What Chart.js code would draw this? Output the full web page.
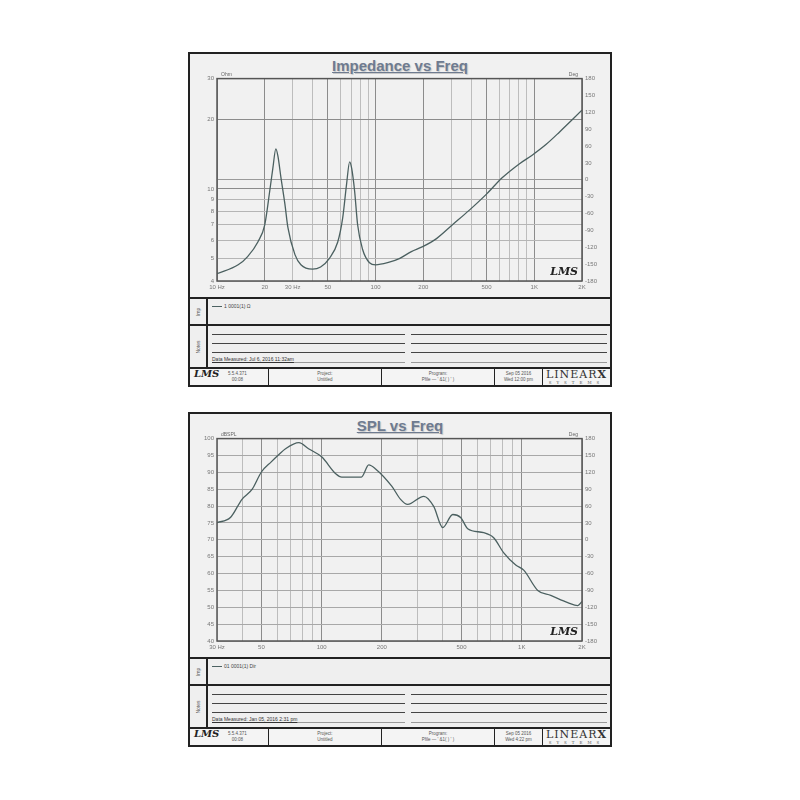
<!DOCTYPE html>
<html>
<head>
<meta charset="utf-8">
<script src="https://cdn.jsdelivr.net/npm/chart.js@4.4.0/dist/chart.umd.min.js"></script>
<style>
body { margin:0; width:800px; height:800px; background:#fff; position:relative; font-family:"Liberation Sans", Arial, sans-serif; }
.panel { position:absolute; left:188px; width:424px; height:335px; border:2px solid #222; box-sizing:border-box; background:#f1f1f1; }
.title { position:absolute; left:0; right:0; top:3px; text-align:center; font-weight:bold; font-size:15px; color:#6e7b90; text-decoration:underline; text-shadow:1px 1px 1px #c8c8c8; }
.plot { position:absolute; left:0; top:18px; width:420px; height:224px; }
.row { position:absolute; left:0; width:420px; border-top:2px solid #222; box-sizing:border-box; background:#efefef; }
.side { position:absolute; left:0; top:0; bottom:0; width:16px; border-right:2px solid #222; }
.side span { position:absolute; left:50%; top:50%; transform:translate(-50%,-50%) rotate(-90deg); font-size:5px; color:#555; white-space:nowrap; }
.leg { position:absolute; left:22px; top:4px; font-size:5px; color:#444; }
.leg i { display:inline-block; width:10px; border-top:1px solid #4d6262; vertical-align:middle; margin-right:2px; }
.nl { position:absolute; height:0; border-top:1px solid #444; }
.nt { position:absolute; left:22px; top:30px; font-size:5px; color:#333; text-decoration:underline; }
.foot { position:absolute; left:0; width:420px; border-top:2px solid #222; box-sizing:border-box; display:flex; background:#f4f4f4; }
.foot div { border-right:1px solid #222; box-sizing:border-box; font-size:4.5px; color:#555; text-align:center; line-height:6px; padding-top:2px; position:relative; }
.foot div:last-child { border-right:none; }
.lms { font-family:"DejaVu Serif", serif; font-style:italic; font-weight:bold; font-size:10px; color:#222; position:absolute; left:4px; top:2px; }
.foot div.lx { font-family:"DejaVu Serif", serif; font-size:11px; color:#333; letter-spacing:1px; line-height:10px; padding-top:1px; }
.foot div.lx span { display:block; font-size:4px; letter-spacing:5px; line-height:5px; color:#555; }
</style>
</head>
<body>

<div class="panel" style="top:52px">
  <div class="title">Impedance vs Freq</div>
  <div class="plot"><canvas id="imp"></canvas></div>
  <div class="row" style="top:243px;height:27px">
    <div class="side"><span>Imp</span></div>
    <div class="leg"><i></i>1 0001(1) Ω</div>
  </div>
  <div class="row" style="top:270px;height:43px">
    <div class="side"><span>Notes</span></div>
    <div class="nl" style="left:22px;width:193px;top:8px"></div>
    <div class="nl" style="left:221px;width:196px;top:8px"></div>
    <div class="nl" style="left:22px;width:193px;top:17px"></div>
    <div class="nl" style="left:221px;width:196px;top:17px"></div>
    <div class="nl" style="left:22px;width:193px;top:26px"></div>
    <div class="nl" style="left:221px;width:196px;top:26px"></div>
    <div class="nl" style="left:22px;width:193px;top:36px;border-color:#999"></div>
    <div class="nl" style="left:221px;width:196px;top:36px;border-color:#999"></div>
    <div class="nt">Data Measured: Jul 6, 2016  11:32am</div>
  </div>
  <div class="foot" style="top:313px;height:18px">
    <div style="width:79px"><span class="lms">LMS</span><span style="position:absolute;left:38px;top:2px">5.5.4.371<br>00:08</span></div>
    <div style="width:113px">Project:<br>Untitled</div>
    <div style="width:113px">Program:<br>Pfile — ' &amp;1( ) ' )</div>
    <div style="width:48px">Sep 05 2016<br>Wed 12:00 pm</div>
    <div style="width:67px" class="lx">LINEAR<b>X</b><span>SYSTEMS</span></div>
  </div>
</div>

<div class="panel" style="top:412px">
  <div class="title">SPL vs Freq</div>
  <div class="plot"><canvas id="spl"></canvas></div>
  <div class="row" style="top:243px;height:27px">
    <div class="side"><span>Imp</span></div>
    <div class="leg"><i></i>01 0001(1) Dir</div>
  </div>
  <div class="row" style="top:270px;height:43px">
    <div class="side"><span>Notes</span></div>
    <div class="nl" style="left:22px;width:193px;top:8px"></div>
    <div class="nl" style="left:221px;width:196px;top:8px"></div>
    <div class="nl" style="left:22px;width:193px;top:17px"></div>
    <div class="nl" style="left:221px;width:196px;top:17px"></div>
    <div class="nl" style="left:22px;width:193px;top:26px"></div>
    <div class="nl" style="left:221px;width:196px;top:26px"></div>
    <div class="nl" style="left:22px;width:193px;top:36px;border-color:#999"></div>
    <div class="nl" style="left:221px;width:196px;top:36px;border-color:#999"></div>
    <div class="nt">Data Measured: Jan 05, 2016  2:31 pm</div>
  </div>
  <div class="foot" style="top:313px;height:18px">
    <div style="width:79px"><span class="lms">LMS</span><span style="position:absolute;left:38px;top:2px">5.5.4.371<br>00:08</span></div>
    <div style="width:113px">Project:<br>Untitled</div>
    <div style="width:113px">Program:<br>Pfile — ' &amp;1( ) ' )</div>
    <div style="width:48px">Sep 05 2016<br>Wed 4:22 pm</div>
    <div style="width:67px" class="lx">LINEAR<b>X</b><span>SYSTEMS</span></div>
  </div>
</div>

<script>
// impedance curve (Hz, Ohm)
const impFreq = [10, 13.6, 15.6, 18.1, 20, 21.5, 22.5, 23.5, 24.2, 25.3, 26.8, 28, 31, 33.8, 40, 45, 51, 57.7, 62, 65.6, 68.6, 70.6, 73.7, 77, 82.6, 91.5, 100, 119, 141, 168, 198, 242, 305, 390, 500, 630, 800, 970, 1190, 1440, 2000];
const impOhm = [4.3, 4.7, 5.1, 5.9, 7.0, 9.8, 12.3, 14.9, 13.9, 11.2, 8.6, 6.8, 5.2, 4.7, 4.5, 4.6, 5.0, 5.9, 7.5, 10.5, 13.1, 12.3, 9.8, 7.0, 5.5, 4.8, 4.7, 4.8, 5.0, 5.36, 5.63, 6.1, 7.0, 8.1, 9.5, 11.2, 12.8, 14.0, 15.6, 17.6, 21.9];

// SPL curve (Hz, dB)
const splFreq = [30, 35, 40, 45, 50, 56, 61, 66, 77, 86, 100, 118, 126, 158, 172, 186, 224, 248, 269, 324, 363, 403, 452, 495, 537, 646, 724, 813, 933, 1023, 1202, 1396, 1698, 1905, 2000];
const splDb = [75.1, 76.6, 82.0, 85.0, 90.1, 93.1, 95.2, 97.0, 98.8, 97.0, 94.6, 89.5, 88.6, 88.6, 92.2, 91.0, 85.9, 82.0, 80.5, 82.9, 79.9, 73.6, 77.5, 76.6, 73.3, 72.1, 70.6, 66.1, 62.5, 61.0, 55.0, 53.5, 51.4, 50.5, 51.7];

// axes
const impGridFreq = [10,20,30,40,50,60,70,80,90,100,200,300,400,500,600,700,800,900,1000,2000];
const splGridFreq = [30,40,50,60,70,80,90,100,200,300,400,500,600,700,800,900,1000,2000];
const freqLabels = {10:'10 Hz', 30:'30 Hz', 20:'20', 50:'50', 100:'100', 200:'200', 500:'500', 1000:'1K', 2000:'2K'};
const ohmTicks = [4,5,6,7,8,9,10,20,30];
const darkFreq = [10, 20, 50, 100, 200, 500, 1000, 2000];

const tickFont = { size: 6, family: 'Liberation Sans' };

const framePlugin = {
    id: 'frame',
    afterDraw(chart, args, opts) {
        const a = chart.chartArea, c = chart.ctx;
        c.save();
        c.strokeStyle = '#555';
        c.lineWidth = 1.5;
        c.strokeRect(a.left, a.top, a.right - a.left, a.bottom - a.top);
        c.fillStyle = '#666';
        c.font = '5px "Liberation Sans"';
        c.textBaseline = 'bottom';
        c.textAlign = 'left';
        c.fillText(opts.leftUnit, a.left + 4, a.top - 1);
        c.textAlign = 'right';
        c.fillText('Deg', a.right - 4, a.top - 1);
        c.fillStyle = '#222';
        c.font = 'italic bold 11px "DejaVu Serif"';
        c.fillText('LMS', a.right - 4, a.bottom - 3);
        c.restore();
    }
};

function freqAxis(min, max, grid) {
    return {
        type: 'logarithmic', min: min, max: max,
        afterBuildTicks: s => { s.ticks = grid.map(v => ({ value: v })); },
        afterFit: s => { s.height = 15; },
        ticks: { autoSkip: false, maxRotation: 0, font: tickFont, color: '#777', padding: 3,
            callback: v => freqLabels[v] || '' },
        grid: { drawTicks: false, color: c => darkFreq.includes(c.tick.value) ? '#8c8c8c' : '#bdbdbd' },
        border: { display: false }
    };
}

function phaseAxis(showZero) {
    return {
        type: 'linear', position: 'right', display: true, min: -180, max: 180,
        afterFit: s => { s.width = 28; },
        ticks: { stepSize: 30, font: tickFont, color: '#777', padding: 3 },
        grid: { drawTicks: false, color: c => (showZero && c.tick.value === 0) ? '#9a9a9a' : 'rgba(0,0,0,0)' },
        border: { display: false }
    };
}

function lineSet(fs, vs) {
    return {
        data: fs.map((f, i) => ({ x: f, y: vs[i] })),
        borderColor: '#4b6060', borderWidth: 1.3, pointRadius: 0,
        cubicInterpolationMode: 'monotone', yAxisID: 'y'
    };
}

new Chart(document.getElementById('imp'), {
    type: 'line',
    data: { datasets: [lineSet(impFreq, impOhm)] },
    options: {
        responsive: true, maintainAspectRatio: false, animation: false,
        layout: { padding: { top: 6 } },
        scales: {
            x: freqAxis(10, 2000, impGridFreq),
            y: {
                type: 'logarithmic', min: 4, max: 30,
                afterBuildTicks: s => { s.ticks = ohmTicks.map(v => ({ value: v })); },
                afterFit: s => { s.width = 27; },
                ticks: { autoSkip: false, font: tickFont, color: '#777', padding: 3, callback: v => String(v) },
                grid: { drawTicks: false, color: c => (c.tick.value === 10 || c.tick.value === 20) ? '#8c8c8c' : '#b5b5b5' },
                border: { display: false }
            },
            y2: phaseAxis(true)
        },
        plugins: { legend: { display: false }, tooltip: { enabled: false }, frame: { leftUnit: 'Ohm' } }
    },
    plugins: [framePlugin]
});

new Chart(document.getElementById('spl'), {
    type: 'line',
    data: { datasets: [lineSet(splFreq, splDb)] },
    options: {
        responsive: true, maintainAspectRatio: false, animation: false,
        layout: { padding: { top: 6 } },
        scales: {
            x: freqAxis(30, 2000, splGridFreq),
            y: {
                type: 'linear', min: 40, max: 100,
                afterFit: s => { s.width = 27; },
                ticks: { stepSize: 5, font: tickFont, color: '#777', padding: 3 },
                grid: { drawTicks: false, color: '#a8a8a8' },
                border: { display: false }
            },
            y2: phaseAxis(false)
        },
        plugins: { legend: { display: false }, tooltip: { enabled: false }, frame: { leftUnit: 'dBSPL' } }
    },
    plugins: [framePlugin]
});
</script>
</body>
</html>
